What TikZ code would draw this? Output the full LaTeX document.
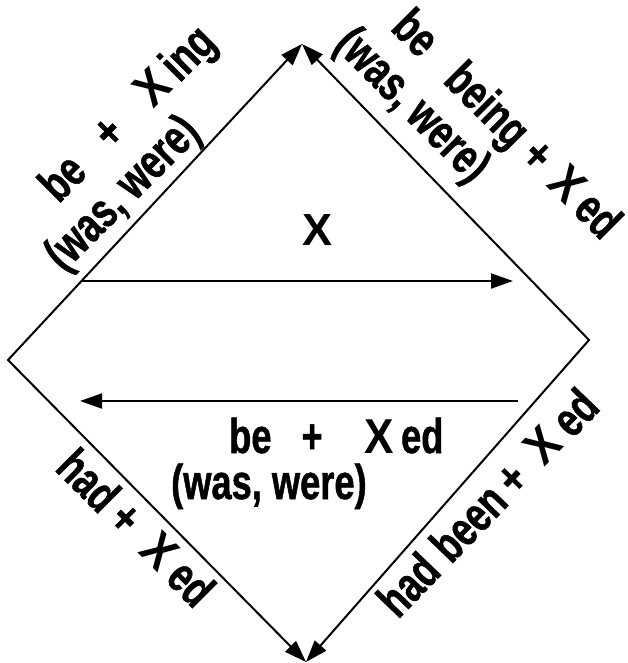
\documentclass[tikz,border=0pt]{standalone}
\usepackage{fontspec}
\usetikzlibrary{arrows.meta}
\newfontfamily\labfont[FakeStretch=0.74,FakeBold=1]{Liberation Sans Bold}
\newfontfamily\xlabfont[FakeStretch=0.9]{Liberation Sans Bold}
\newfontfamily\xfont{Liberation Sans Bold}
\newcommand\wX{{\xlabfont X}}
\begin{document}
\begin{tikzpicture}[x=1pt,y=-1pt,
  edge/.style={line width=2pt},
  tip/.tip={Triangle[length=22pt,width=15pt]},
  lab/.style={font=\labfont\fontsize{49pt}{56pt}\selectfont, inner sep=0pt, anchor=base west}]
\useasboundingbox (0,0) rectangle (628,663);
\coordinate (T) at (302,44);
\coordinate (L) at (8,360);
\coordinate (R) at (589,340);
\coordinate (B) at (306,662);
\coordinate (a1) at (81.5,281);
\coordinate (a2) at (513,281);
\coordinate (b1) at (518,401);
\coordinate (b2) at (80,401);
% diamond edges
\draw[edge,tip-tip] (T) -- (L) -- (B);
\draw[edge,tip-tip] (T) -- (R) -- (B);
% horizontal arrows
\draw[edge,-tip] (a1) -- (a2);
\draw[edge,-tip] (b1) -- (b2);
% labels
\node[font=\xfont\fontsize{45pt}{50pt}\selectfont, inner sep=0pt] (x) at (318,230.5) {X};
\node[lab] (c1) at (229,453) {be\hspace{30pt}+\hspace{42pt}\wX\hspace{7pt}ed};
\node[lab] (c2) at (171,499) {(was, were)};
\node[lab,rotate=45] (tl1) at (58.7,204.3) {be\hspace{33pt}+\hspace{38pt}\wX\hspace{7pt}ing};
\node[lab,rotate=45] (tl2) at (63.6,272.9) {(was, were)};
\node[lab,rotate=-45] (tr1) at (389.3,29.3) {be\hspace{32pt}being\hspace{12pt}+\hspace{16pt}\wX\hspace{8pt}ed};
\node[lab,rotate=-45] (tr2) at (332.7,46.2) {(was, were)};
\node[lab,rotate=-45] (bl) at (53.7,469.5) {had\hspace{10pt}+\hspace{22pt}\wX\hspace{9pt}ed};
\node[lab,rotate=46] (br) at (398,620) {had\hspace{12pt}been\hspace{9pt}+\hspace{20pt}\wX\hspace{10pt}ed};
\end{tikzpicture}
\end{document}
